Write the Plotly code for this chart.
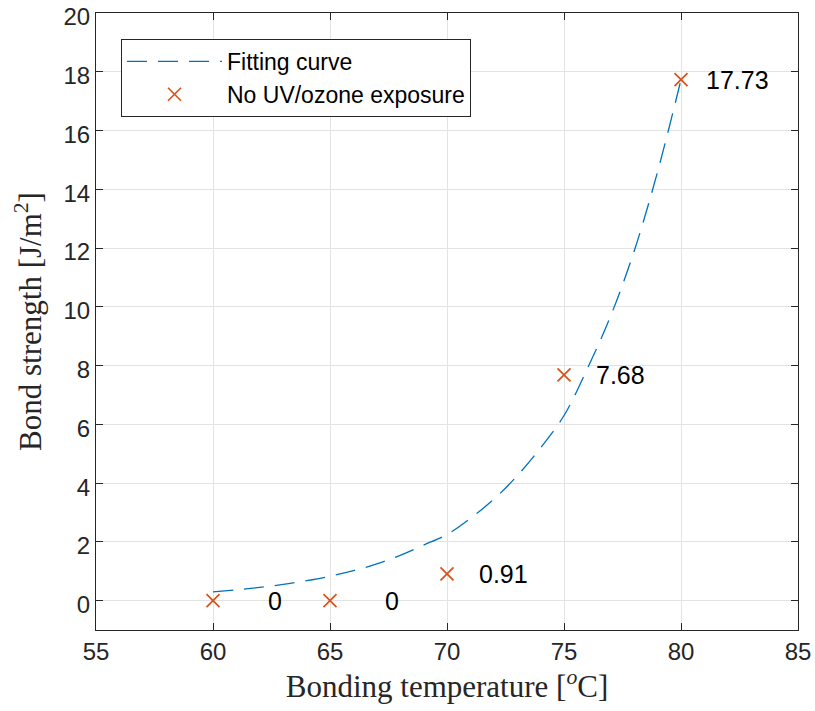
import plotly.graph_objects as go

# Fitting curve
fit_x = [60, 61, 62, 63, 64, 65, 66, 67, 68, 69, 70, 71, 72, 73, 74, 75, 76, 77, 78, 79, 80]
fit_y = [0.30, 0.37, 0.45, 0.55, 0.68, 0.83, 1.02, 1.25, 1.54, 1.89, 2.25, 2.80, 3.45, 4.25, 5.20, 6.30, 7.90, 9.70, 11.90, 14.60, 17.73]

# Measured points
temp = [60, 65, 70, 75, 80]
strength = [0, 0, 0.91, 7.68, 17.73]
labels = ["0", "0", "0.91", "7.68", "17.73"]
label_x = [62.25, 67.25, 71.3, 76.3, 81.0]

x_ticks = [55, 60, 65, 70, 75, 80, 85]
y_ticks = [0, 2, 4, 6, 8, 10, 12, 14, 16, 18, 20]

blue = "#0072BD"
orange = "#D95319"
sans = "Liberation Sans, Arial, Helvetica"
serif = "Liberation Serif, Times New Roman, serif"

fig = go.Figure()
fig.add_trace(go.Scatter(
    x=fit_x, y=fit_y, mode="lines", name="Fitting curve",
    line=dict(color=blue, width=1.3, dash="20px,11px"), line_shape="spline"))
fig.add_trace(go.Scatter(
    x=temp, y=strength, mode="markers", name="No UV/ozone exposure",
    marker=dict(symbol="x-thin", size=13, line=dict(color=orange, width=1.7), color=orange)))

for lx, y, t in zip(label_x, strength, labels):
    fig.add_annotation(x=lx, y=y, text=t, showarrow=False, xanchor="left", yanchor="middle",
                       font=dict(family=sans, size=25, color="black"))

axis_common = dict(
    showline=True, linecolor="#262626", linewidth=1, mirror="ticks",
    ticks="inside", ticklen=7, tickcolor="#262626", tickwidth=1,
    showgrid=True, gridcolor="#e3e3e3", gridwidth=1, zeroline=False,
    tickfont=dict(family=sans, size=24, color="#262626"),
    ticklabeloverflow="allow", automargin=False,
)

fig.update_xaxes(range=[55, 85], tickvals=x_ticks,
                 title=dict(text="Bonding temperature [<i><sup>o</sup></i>C]",
                            font=dict(family=serif, size=31, color="#262626"),
                            standoff=4),
                 **axis_common)
fig.update_yaxes(range=[-1, 20], tickvals=y_ticks, ticklabelshift=4,
                 title=dict(text="Bond strength [J/m<sup>2</sup>]",
                            font=dict(family=serif, size=31, color="#262626"),
                            standoff=12),
                 **axis_common)

fig.update_layout(
    width=815, height=711,
    margin=dict(l=96, r=17, t=13, b=81),
    plot_bgcolor="white", paper_bgcolor="white",
    showlegend=True,
    legend=dict(x=0.0356, y=0.958, xanchor="left", yanchor="top",
                bgcolor="white", bordercolor="#262626", borderwidth=1,
                font=dict(family=sans, size=23, color="black"),
                tracegroupgap=0, itemwidth=95),
)

fig.write_html("out.html")
